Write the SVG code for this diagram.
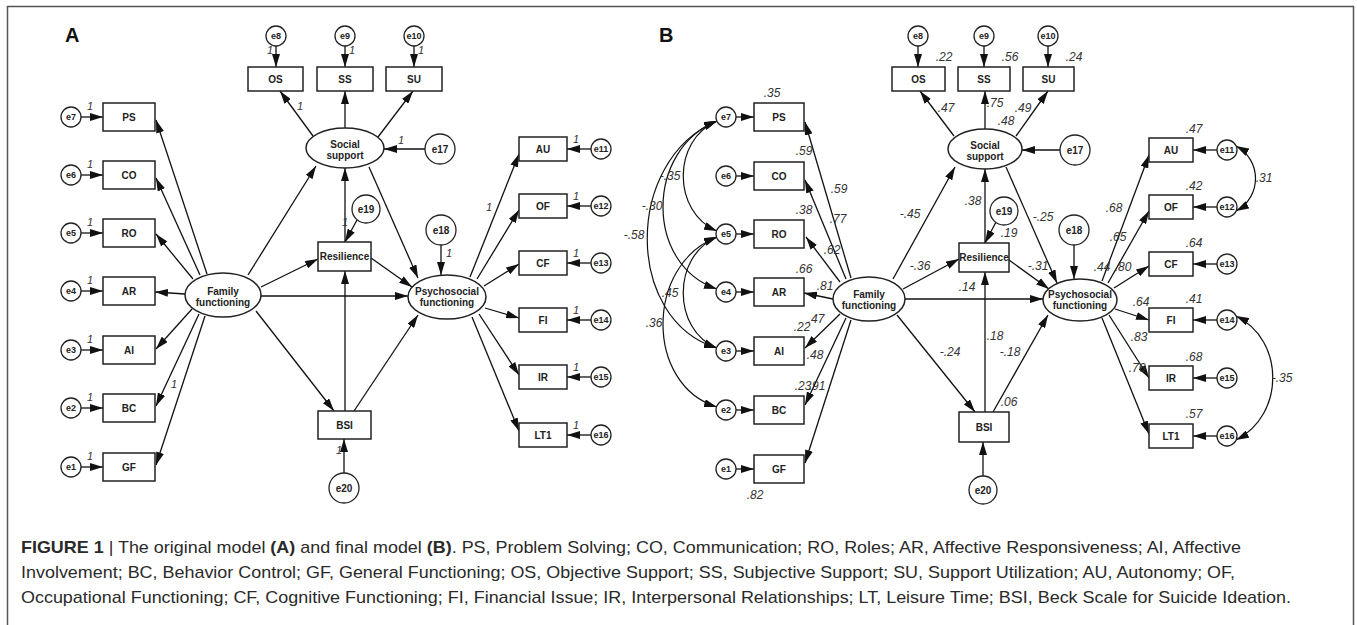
<svg xmlns="http://www.w3.org/2000/svg" width="1357" height="625" viewBox="0 0 1357 625">
<defs>
<marker id="ah" viewBox="0 0 13 8" refX="13" refY="4" markerWidth="13" markerHeight="8" markerUnits="userSpaceOnUse" orient="auto-start-reverse"><path d="M0,0 L13,4 L0,8 z" fill="#111"/></marker>
<style>
.box{fill:#fff;stroke:#222;stroke-width:1.5}
.err{fill:#fff;stroke:#222;stroke-width:1.3}
.c{stroke:#111;stroke-width:1.3;fill:none;marker-end:url(#ah)}
.cc{stroke:#111;stroke-width:1.2;fill:none;marker-start:url(#ah);marker-end:url(#ah)}
.t{font-family:"Liberation Sans",Arial,sans-serif;font-weight:bold;font-size:10px;text-anchor:middle;fill:#222}
.e{font-size:9px}
.el{font-size:10px}
.n{font-family:"Liberation Sans",Arial,sans-serif;font-style:italic;font-size:12px;text-anchor:middle;fill:#333}
.one{font-size:11px}
.pl{font-family:"Liberation Sans",Arial,sans-serif;font-weight:bold;font-size:20px;fill:#111}
.cap{font-family:"Liberation Sans",Arial,sans-serif;font-size:17px;fill:#2a2a2a}
</style>
</defs>
<rect width="1357" height="625" fill="#fff"/>
<path d="M7.5,630 V6.5 H1353.5 V630" fill="none" stroke="#555" stroke-width="1.5"/>

<g id="connectors">
<path class="c" d="M81,117 H103"/><path class="c" d="M81,175 H103"/><path class="c" d="M81,233 H103"/><path class="c" d="M81,291 H103"/><path class="c" d="M81,350 H103"/><path class="c" d="M81,408 H103"/><path class="c" d="M81,467 H103"/>
<path class="c" d="M207,274 L156,120"/><path class="c" d="M200,275 L156,178"/><path class="c" d="M193,279 L156,234"/><path class="c" d="M185,294 L155,292"/><path class="c" d="M192,309 L156,349"/><path class="c" d="M199,314 L156,406"/><path class="c" d="M205,316 L156,465"/>
<path class="c" d="M248,275 L316,166"/><path class="c" d="M261,287 L318,259"/><path class="c" d="M261,296 H408"/><path class="c" d="M256,311 L334,411"/>
<path class="c" d="M313,136 L280,91"/><path class="c" d="M345,128 V91"/><path class="c" d="M378,137 L413,91"/>
<path class="c" d="M276,46 V67"/><path class="c" d="M345,46 V67"/><path class="c" d="M414,46 V67"/>
<path class="c" d="M425,149 H384"/><path class="c" d="M345,242 V168"/><path class="c" d="M357,220 L345,242"/>
<path class="c" d="M369,167 L418,278"/><path class="c" d="M371,258 L412,287"/><path class="c" d="M441,245 V275"/>
<path class="c" d="M345,411 V271"/><path class="c" d="M354,411 L418,315"/><path class="c" d="M344,473 V439"/>
<path class="c" d="M470,277 L519,154"/><path class="c" d="M477,279 L519,210"/><path class="c" d="M484,286 L519,264"/><path class="c" d="M485,308 L519,318"/><path class="c" d="M479,314 L519,375"/><path class="c" d="M472,317 L519,431"/>
<path class="c" d="M591,149 H567"/><path class="c" d="M591,206 H567"/><path class="c" d="M591,263 H567"/><path class="c" d="M591,320 H567"/><path class="c" d="M591,377 H567"/><path class="c" d="M591,435 H567"/>
<path class="c" d="M736,117 H754"/><path class="c" d="M736,176 H754"/><path class="c" d="M736,234 H754"/><path class="c" d="M736,292 H754"/><path class="c" d="M736,351 H754"/><path class="c" d="M736,410 H754"/><path class="c" d="M736,469 H754"/>
<path class="c" d="M851,278 L805,122"/><path class="c" d="M846,279 L805,180"/><path class="c" d="M840,282 L806,237"/><path class="c" d="M833,299 L804,293"/><path class="c" d="M840,314 L805,348"/><path class="c" d="M846,318 L805,405"/><path class="c" d="M851,320 L805,463"/>
<path class="c" d="M893,279 L955,167"/><path class="c" d="M903,289 L959,259"/><path class="c" d="M905,299 H1043"/><path class="c" d="M897,315 L975,412"/>
<path class="c" d="M954,136 L920,91"/><path class="c" d="M985,129 V91"/><path class="c" d="M1016,136 L1048,91"/>
<path class="c" d="M918,46 V67"/><path class="c" d="M984,46 V67"/><path class="c" d="M1048,46 V67"/>
<path class="c" d="M1060,150 H1022"/><path class="c" d="M985,243 V169"/><path class="c" d="M996,222 L985,243"/>
<path class="c" d="M1006,167 L1057,283"/><path class="c" d="M1009,260 L1049,289"/><path class="c" d="M1074,245 V279"/>
<path class="c" d="M985,412 V272"/><path class="c" d="M993,412 L1048,315"/><path class="c" d="M983,476 V442"/>
<path class="c" d="M1102,281 L1149,155"/><path class="c" d="M1108,283 L1149,211"/><path class="c" d="M1114,288 L1149,266"/><path class="c" d="M1115,309 L1149,320"/><path class="c" d="M1109,315 L1149,378"/><path class="c" d="M1102,318 L1149,434"/>
<path class="c" d="M1217,150 H1193"/><path class="c" d="M1217,207 H1193"/><path class="c" d="M1217,264 H1193"/><path class="c" d="M1217,320 H1193"/><path class="c" d="M1217,378 H1193"/><path class="c" d="M1217,436 H1193"/>
<path class="cc" d="M717,121 C672,140 672,212 717,231"/>
<path class="cc" d="M717,121 C645,150 645,265 717,289"/>
<path class="cc" d="M717,121 C624,160 624,320 717,348"/>
<path class="cc" d="M717,237 C672,256 672,330 717,348"/>
<path class="cc" d="M717,237 C645,265 645,385 717,407"/>
<path class="cc" d="M1236,146 C1262,160 1262,197 1236,211"/>
<path class="cc" d="M1236,316 C1285,340 1285,415 1236,440"/>
</g>

<g id="panelA">
<text class="pl" x="65" y="42">A</text>
<g id="a-e7"><circle class="err" cx="71" cy="117" r="10"/><text class="t e" x="71" y="120">e7</text></g>
<g id="a-e6"><circle class="err" cx="71" cy="175" r="10"/><text class="t e" x="71" y="178">e6</text></g>
<g id="a-e5"><circle class="err" cx="71" cy="233" r="10"/><text class="t e" x="71" y="236">e5</text></g>
<g id="a-e4"><circle class="err" cx="71" cy="291" r="10"/><text class="t e" x="71" y="294">e4</text></g>
<g id="a-e3"><circle class="err" cx="71" cy="350" r="10"/><text class="t e" x="71" y="353">e3</text></g>
<g id="a-e2"><circle class="err" cx="71" cy="408" r="10"/><text class="t e" x="71" y="411">e2</text></g>
<g id="a-e1"><circle class="err" cx="71" cy="467" r="10"/><text class="t e" x="71" y="470">e1</text></g>
<g id="a-PS"><rect class="box" x="103" y="103" width="52" height="28"/><text class="t" x="129" y="120.5">PS</text></g>
<g id="a-CO"><rect class="box" x="103" y="161" width="52" height="28"/><text class="t" x="129" y="178.5">CO</text></g>
<g id="a-RO"><rect class="box" x="103" y="219" width="52" height="28"/><text class="t" x="129" y="236.5">RO</text></g>
<g id="a-AR"><rect class="box" x="103" y="277" width="52" height="28"/><text class="t" x="129" y="294.5">AR</text></g>
<g id="a-AI"><rect class="box" x="103" y="336" width="52" height="28"/><text class="t" x="129" y="353.5">AI</text></g>
<g id="a-BC"><rect class="box" x="103" y="394" width="52" height="28"/><text class="t" x="129" y="411.5">BC</text></g>
<g id="a-GF"><rect class="box" x="103" y="453" width="52" height="28"/><text class="t" x="129" y="470.5">GF</text></g>
<g id="a-FF"><ellipse class="box" cx="223" cy="295" rx="38" ry="22"/><text class="t el" x="223" y="295">Family</text><text class="t el" x="223" y="306">functioning</text></g>
<g id="a-e8"><circle class="err" cx="276" cy="36" r="10"/><text class="t e" x="276" y="39">e8</text></g>
<g id="a-e9"><circle class="err" cx="345" cy="36" r="10"/><text class="t e" x="345" y="39">e9</text></g>
<g id="a-e10"><circle class="err" cx="414" cy="36" r="10"/><text class="t e" x="414" y="39">e10</text></g>
<g id="a-OS"><rect class="box" x="248" y="67" width="55" height="24"/><text class="t" x="275.5" y="82.5">OS</text></g>
<g id="a-SS"><rect class="box" x="317" y="67" width="56" height="24"/><text class="t" x="345" y="82.5">SS</text></g>
<g id="a-SU"><rect class="box" x="386" y="67" width="56" height="24"/><text class="t" x="414" y="82.5">SU</text></g>
<g id="a-Social"><ellipse class="box" cx="345" cy="148" rx="39" ry="20"/><text class="t el" x="345" y="148">Social</text><text class="t el" x="345" y="159">support</text></g>
<g id="a-e17"><circle class="err" cx="440" cy="149" r="15"/><text class="t el" x="440" y="152.5">e17</text></g>
<g id="a-e19"><circle class="err" cx="366" cy="209" r="14"/><text class="t el" x="366" y="212.5">e19</text></g>
<g id="a-e18"><circle class="err" cx="441" cy="230" r="15"/><text class="t el" x="441" y="233.5">e18</text></g>
<g id="a-Res"><rect class="box" x="318" y="242" width="53" height="29"/><text class="t" x="344.5" y="260">Resilience</text></g>
<g id="a-Psy"><ellipse class="box" cx="447" cy="297" rx="39" ry="22"/><text class="t el" x="447" y="295">Psychosocial</text><text class="t el" x="447" y="306">functioning</text></g>
<g id="a-BSI"><rect class="box" x="318" y="411" width="53" height="28"/><text class="t" x="344.5" y="428.5">BSI</text></g>
<g id="a-e20"><circle class="err" cx="344" cy="488" r="15"/><text class="t el" x="344" y="491.5">e20</text></g>
<g id="a-AU"><rect class="box" x="519" y="137" width="48" height="24"/><text class="t" x="543" y="152.5">AU</text></g>
<g id="a-OF"><rect class="box" x="519" y="194" width="48" height="24"/><text class="t" x="543" y="209.5">OF</text></g>
<g id="a-CF"><rect class="box" x="519" y="251" width="48" height="24"/><text class="t" x="543" y="266.5">CF</text></g>
<g id="a-FI"><rect class="box" x="519" y="308" width="48" height="24"/><text class="t" x="543" y="323.5">FI</text></g>
<g id="a-IR"><rect class="box" x="519" y="365" width="48" height="24"/><text class="t" x="543" y="380.5">IR</text></g>
<g id="a-LT1"><rect class="box" x="519" y="423" width="48" height="24"/><text class="t" x="543" y="438.5">LT1</text></g>
<g id="a-e11"><circle class="err" cx="601" cy="149" r="10"/><text class="t e" x="601" y="152">e11</text></g>
<g id="a-e12"><circle class="err" cx="601" cy="206" r="10"/><text class="t e" x="601" y="209">e12</text></g>
<g id="a-e13"><circle class="err" cx="601" cy="263" r="10"/><text class="t e" x="601" y="266">e13</text></g>
<g id="a-e14"><circle class="err" cx="601" cy="320" r="10"/><text class="t e" x="601" y="323">e14</text></g>
<g id="a-e15"><circle class="err" cx="601" cy="377" r="10"/><text class="t e" x="601" y="380">e15</text></g>
<g id="a-e16"><circle class="err" cx="601" cy="435" r="10"/><text class="t e" x="601" y="438">e16</text></g>
<g id="a-labels">
<text class="n one" x="90" y="110">1</text><text class="n one" x="90" y="168">1</text><text class="n one" x="90" y="226">1</text><text class="n one" x="90" y="284">1</text><text class="n one" x="90" y="343">1</text><text class="n one" x="90" y="401">1</text><text class="n one" x="90" y="460">1</text>
<text class="n one" x="270" y="54">1</text><text class="n one" x="352" y="54">1</text><text class="n one" x="421" y="54">1</text>
<text class="n one" x="300" y="110">1</text><text class="n one" x="401" y="144">1</text><text class="n one" x="345" y="226">1</text><text class="n one" x="449" y="257">1</text><text class="n one" x="339" y="454">1</text><text class="n one" x="174" y="388">1</text><text class="n one" x="489" y="211">1</text>
<text class="n one" x="576" y="143">1</text><text class="n one" x="576" y="200">1</text><text class="n one" x="576" y="257">1</text><text class="n one" x="576" y="314">1</text><text class="n one" x="576" y="371">1</text><text class="n one" x="576" y="429">1</text>
</g>
</g>

<g id="panelB">
<text class="pl" x="659" y="42">B</text>
<g id="b-e7"><circle class="err" cx="726" cy="117" r="10"/><text class="t e" x="726" y="120">e7</text></g>
<g id="b-e6"><circle class="err" cx="726" cy="176" r="10"/><text class="t e" x="726" y="179">e6</text></g>
<g id="b-e5"><circle class="err" cx="726" cy="234" r="10"/><text class="t e" x="726" y="237">e5</text></g>
<g id="b-e4"><circle class="err" cx="726" cy="292" r="10"/><text class="t e" x="726" y="295">e4</text></g>
<g id="b-e3"><circle class="err" cx="726" cy="351" r="10"/><text class="t e" x="726" y="354">e3</text></g>
<g id="b-e2"><circle class="err" cx="726" cy="410" r="10"/><text class="t e" x="726" y="413">e2</text></g>
<g id="b-e1"><circle class="err" cx="726" cy="469" r="10"/><text class="t e" x="726" y="472">e1</text></g>
<g id="b-PS"><rect class="box" x="754" y="103" width="50" height="28"/><text class="t" x="779" y="120.5">PS</text></g>
<g id="b-CO"><rect class="box" x="754" y="162" width="50" height="28"/><text class="t" x="779" y="179.5">CO</text></g>
<g id="b-RO"><rect class="box" x="754" y="220" width="50" height="28"/><text class="t" x="779" y="237.5">RO</text></g>
<g id="b-AR"><rect class="box" x="754" y="278" width="50" height="28"/><text class="t" x="779" y="295.5">AR</text></g>
<g id="b-AI"><rect class="box" x="754" y="337" width="50" height="28"/><text class="t" x="779" y="354.5">AI</text></g>
<g id="b-BC"><rect class="box" x="754" y="396" width="50" height="28"/><text class="t" x="779" y="413.5">BC</text></g>
<g id="b-GF"><rect class="box" x="754" y="455" width="50" height="28"/><text class="t" x="779" y="472.5">GF</text></g>
<g id="b-FF"><ellipse class="box" cx="869" cy="299" rx="36" ry="22"/><text class="t el" x="869" y="298">Family</text><text class="t el" x="869" y="309">functioning</text></g>
<g id="b-e8"><circle class="err" cx="918" cy="36" r="10"/><text class="t e" x="918" y="39">e8</text></g>
<g id="b-e9"><circle class="err" cx="984" cy="36" r="10"/><text class="t e" x="984" y="39">e9</text></g>
<g id="b-e10"><circle class="err" cx="1048" cy="36" r="10"/><text class="t e" x="1048" y="39">e10</text></g>
<g id="b-OS"><rect class="box" x="892" y="67" width="53" height="24"/><text class="t" x="918.5" y="82.5">OS</text></g>
<g id="b-SS"><rect class="box" x="958" y="67" width="52" height="24"/><text class="t" x="984" y="82.5">SS</text></g>
<g id="b-SU"><rect class="box" x="1023" y="67" width="51" height="24"/><text class="t" x="1048.5" y="82.5">SU</text></g>
<g id="b-Social"><ellipse class="box" cx="985" cy="149" rx="37" ry="20"/><text class="t el" x="985" y="149">Social</text><text class="t el" x="985" y="160">support</text></g>
<g id="b-e17"><circle class="err" cx="1075" cy="150" r="15"/><text class="t el" x="1075" y="153.5">e17</text></g>
<g id="b-e19"><circle class="err" cx="1004" cy="211" r="14"/><text class="t el" x="1004" y="214.5">e19</text></g>
<g id="b-e18"><circle class="err" cx="1074" cy="230" r="15"/><text class="t el" x="1074" y="233.5">e18</text></g>
<g id="b-Res"><rect class="box" x="959" y="243" width="50" height="29"/><text class="t" x="984" y="261">Resilience</text></g>
<g id="b-Psy"><ellipse class="box" cx="1080" cy="300" rx="37" ry="21"/><text class="t el" x="1080" y="298">Psychosocial</text><text class="t el" x="1080" y="309">functioning</text></g>
<g id="b-BSI"><rect class="box" x="959" y="412" width="50" height="30"/><text class="t" x="984" y="430.5">BSI</text></g>
<g id="b-e20"><circle class="err" cx="983" cy="490" r="14"/><text class="t el" x="983" y="493.5">e20</text></g>
<g id="b-AU"><rect class="box" x="1149" y="138" width="44" height="24"/><text class="t" x="1171" y="153.5">AU</text></g>
<g id="b-OF"><rect class="box" x="1149" y="195" width="44" height="24"/><text class="t" x="1171" y="210.5">OF</text></g>
<g id="b-CF"><rect class="box" x="1149" y="252" width="44" height="24"/><text class="t" x="1171" y="267.5">CF</text></g>
<g id="b-FI"><rect class="box" x="1149" y="308" width="44" height="24"/><text class="t" x="1171" y="323.5">FI</text></g>
<g id="b-IR"><rect class="box" x="1149" y="366" width="44" height="24"/><text class="t" x="1171" y="381.5">IR</text></g>
<g id="b-LT1"><rect class="box" x="1149" y="424" width="44" height="24"/><text class="t" x="1171" y="439.5">LT1</text></g>
<g id="b-e11"><circle class="err" cx="1227" cy="150" r="10"/><text class="t e" x="1227" y="153">e11</text></g>
<g id="b-e12"><circle class="err" cx="1227" cy="207" r="10"/><text class="t e" x="1227" y="210">e12</text></g>
<g id="b-e13"><circle class="err" cx="1227" cy="264" r="10"/><text class="t e" x="1227" y="267">e13</text></g>
<g id="b-e14"><circle class="err" cx="1227" cy="320" r="10"/><text class="t e" x="1227" y="323">e14</text></g>
<g id="b-e15"><circle class="err" cx="1227" cy="378" r="10"/><text class="t e" x="1227" y="381">e15</text></g>
<g id="b-e16"><circle class="err" cx="1227" cy="436" r="10"/><text class="t e" x="1227" y="439">e16</text></g>
<g id="b-labels">
<text class="n" x="772" y="97">.35</text>
<text class="n" x="804" y="155">.59</text>
<text class="n" x="839" y="193">.59</text>
<text class="n" x="804" y="214">.38</text>
<text class="n" x="838" y="223">.77</text>
<text class="n" x="832" y="254">.62</text>
<text class="n" x="804" y="273">.66</text>
<text class="n" x="825" y="290">.81</text>
<text class="n" x="816" y="323">.47</text>
<text class="n" x="802" y="331">.22</text>
<text class="n" x="815" y="359">.48</text>
<text class="n" x="803" y="390">.23</text>
<text class="n" x="817" y="390">.91</text>
<text class="n" x="755" y="499">.82</text>
<text class="n" x="920" y="270">-.36</text>
<text class="n" x="910" y="218">-.45</text>
<text class="n" x="670" y="180">-.35</text>
<text class="n" x="652" y="210">-.30</text>
<text class="n" x="634" y="239">-.58</text>
<text class="n" x="670" y="297">.45</text>
<text class="n" x="654" y="327">.36</text>
<text class="n" x="944" y="61">.22</text>
<text class="n" x="1010" y="61">.56</text>
<text class="n" x="1074" y="61">.24</text>
<text class="n" x="946" y="112">.47</text>
<text class="n" x="995" y="107">.75</text>
<text class="n" x="1023" y="112">.49</text>
<text class="n" x="1006" y="125">.48</text>
<text class="n" x="973" y="205">.38</text>
<text class="n" x="1009" y="237">.19</text>
<text class="n" x="1043" y="221">-.25</text>
<text class="n" x="1114" y="212">.68</text>
<text class="n" x="1118" y="241">.65</text>
<text class="n" x="967" y="291">.14</text>
<text class="n" x="1038" y="270">-.31</text>
<text class="n" x="1102" y="271">.44</text>
<text class="n" x="1123" y="271">.80</text>
<text class="n" x="1141" y="306">.64</text>
<text class="n" x="1139" y="341">.83</text>
<text class="n" x="1137" y="372">.76</text>
<text class="n" x="950" y="356">-.24</text>
<text class="n" x="995" y="340">.18</text>
<text class="n" x="1010" y="356">-.18</text>
<text class="n" x="1009" y="406">.06</text>
<text class="n" x="1194" y="133">.47</text>
<text class="n" x="1194" y="190">.42</text>
<text class="n" x="1194" y="247">.64</text>
<text class="n" x="1194" y="303">.41</text>
<text class="n" x="1194" y="361">.68</text>
<text class="n" x="1194" y="418">.57</text>
<text class="n" x="1264" y="182">.31</text>
<text class="n" x="1282" y="382">-.35</text>
</g>
</g>

<g id="caption">
<text class="cap" x="21" y="553" textLength="1220" lengthAdjust="spacingAndGlyphs"><tspan font-weight="bold">FIGURE 1</tspan> | The original model <tspan font-weight="bold">(A)</tspan> and final model <tspan font-weight="bold">(B)</tspan>. PS, Problem Solving; CO, Communication; RO, Roles; AR, Affective Responsiveness; AI, Affective</text>
<text class="cap" x="21" y="578" textLength="1214" lengthAdjust="spacingAndGlyphs">Involvement; BC, Behavior Control; GF, General Functioning; OS, Objective Support; SS, Subjective Support; SU, Support Utilization; AU, Autonomy; OF,</text>
<text class="cap" x="21" y="603" textLength="1270" lengthAdjust="spacingAndGlyphs">Occupational Functioning; CF, Cognitive Functioning; FI, Financial Issue; IR, Interpersonal Relationships; LT, Leisure Time; BSI, Beck Scale for Suicide Ideation.</text>
</g>
</svg>
